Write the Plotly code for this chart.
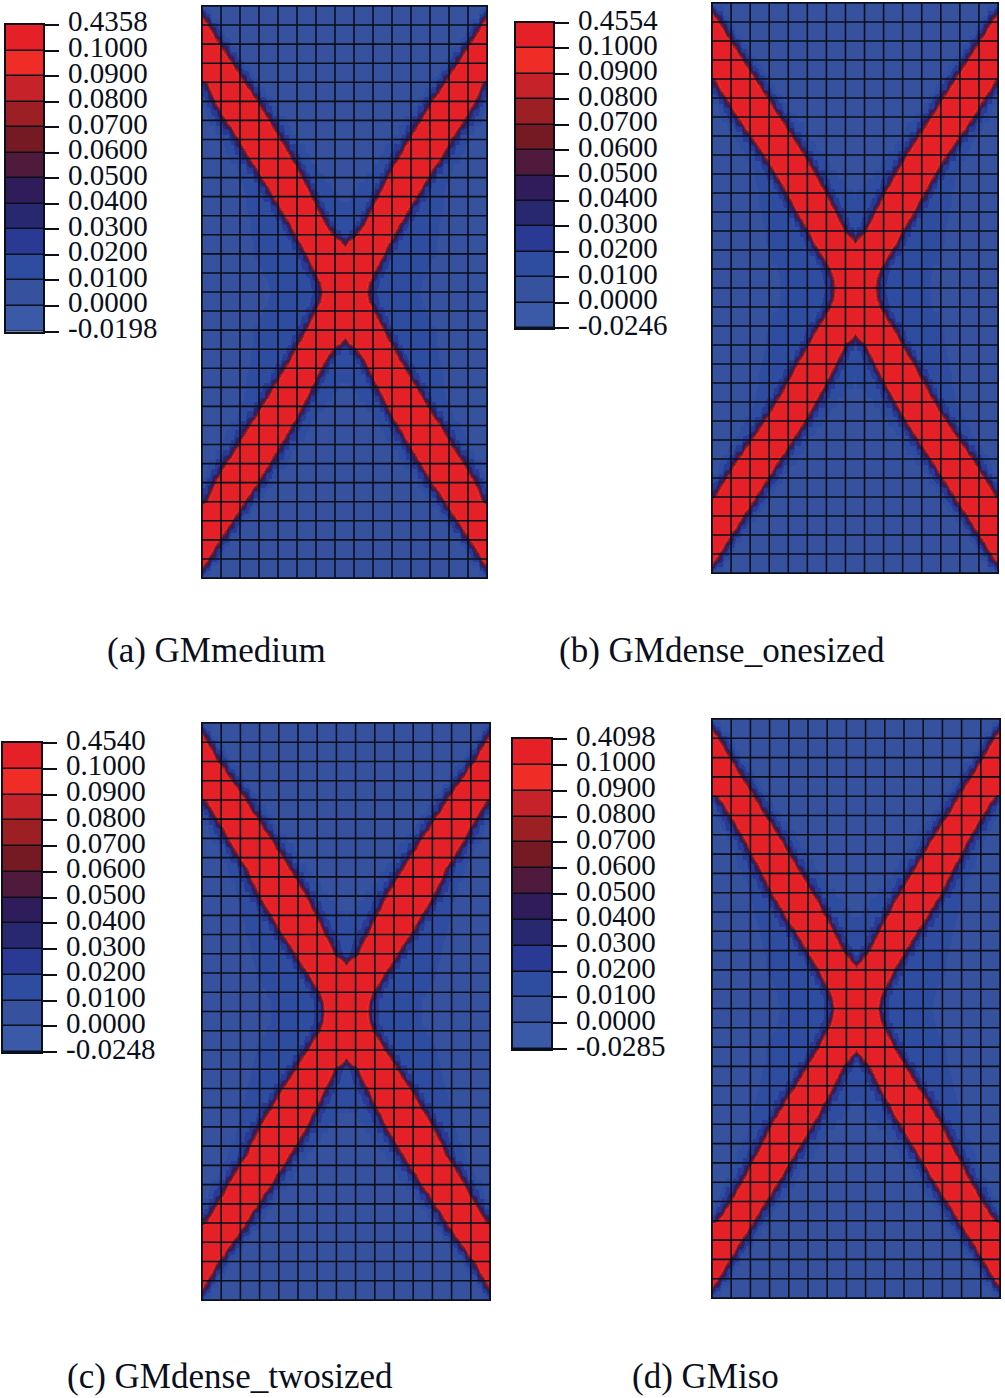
import numpy as np
import plotly.graph_objects as go

WIDTH, HEIGHT = 1005, 1398
N_COLS, N_ROWS = 15, 30

captions = ["(a) GMmedium", "(b) GMdense_onesized", "(c) GMdense_twosized", "(d) GMiso"]
strain_max = [0.4358, 0.4554, 0.4540, 0.4098]
strain_min = [-0.0198, -0.0246, -0.0248, -0.0285]
strain_levels = [0.0, 0.01, 0.02, 0.03, 0.04, 0.05, 0.06, 0.07, 0.08, 0.09, 0.10]
level_colors = ["#3a5aa8", "#36529f", "#2e4ca0", "#2a3a94", "#27286f", "#2f1c5b",
                "#4f1a3b", "#751a22", "#9c1f24", "#c62229", "#ef2c25", "#e52027"]

# band edges read per half cell row, top edge down to mid height, in mesh cells
# (-1 = band reaches the side / not started, 8 = band closed over the centre)
outer_a = [-1, -1, -1, -1, -1, -1, -1, -1, .15, .35, .55, .85, 1.15, 1.5, 1.8, 2.1, 2.4, 2.75, 3.05, 3.35, 3.65,
           3.95, 4.25, 4.55, 4.8, 5.1, 5.35, 5.6, 5.85, 6.1, 6.2]
inner_a = [-1, .1, .4, .7, 1.0, 1.35, 1.65, 2.0, 2.3, 2.65, 3.0, 3.3, 3.6, 3.9, 4.2, 4.5, 4.8, 5.1, 5.35, 5.6, 5.85,
           6.1, 6.35, 6.6, 6.95, 7.5, 8, 8, 8, 8, 8]
outer_b = [-1, -1, -1, -1, -1, -1, -1, -1, .05, .3, .65, .95, 1.25, 1.6, 1.95, 2.3, 2.65, 2.95, 3.25, 3.55, 3.8,
           4.1, 4.35, 4.65, 4.95, 5.2, 5.5, 5.8, 6.1, 6.25, 6.3]
inner_b = [-1, .12, .45, .75, 1.07, 1.4, 1.7, 2.03, 2.35, 2.67, 3.0, 3.3, 3.62, 3.95, 4.27, 4.6, 4.9, 5.2, 5.5, 5.75,
           6.05, 6.3, 6.55, 6.8, 7.05, 7.5, 8, 8, 8, 8, 8]
outer_c = [-1, -1, -1, -1, -1, -1, -1, -1, .1, .4, .7, 1.0, 1.25, 1.55, 1.85, 2.2, 2.4, 2.65, 2.9, 3.2, 3.5,
           3.8, 4.1, 4.45, 4.75, 5.05, 5.4, 5.7, 6.0, 6.2, 6.25]
inner_c = [-1, .1, .35, .65, .9, 1.3, 1.65, 2.0, 2.35, 2.65, 3.0, 3.3, 3.65, 3.95, 4.3, 4.6, 4.9, 5.2, 5.5, 5.75,
           6.0, 6.25, 6.5, 6.75, 6.95, 7.5, 8, 8, 8, 8, 8]
outer_d = [-1, -1, -1, -1, -1, -1, -1, -1, .2, .55, .85, 1.15, 1.45, 1.7, 1.95, 2.25, 2.5, 2.75, 3.0, 3.3, 3.6,
           3.9, 4.25, 4.55, 4.85, 5.15, 5.45, 5.7, 5.95, 6.15, 6.25]
inner_d = [-1, .08, .4, .7, 1.0, 1.3, 1.6, 1.95, 2.25, 2.55, 2.85, 3.2, 3.5, 3.8, 4.1, 4.4, 4.7, 5.0, 5.3, 5.6, 5.85,
           6.15, 6.4, 6.65, 6.9, 7.3, 7.7, 8, 8, 8, 8]
# how far the slightly raised strain reaches from the band in each row, in cells
halo_reach = [.4, .4, .5, .5, .5, .6, .6, .6, .7, .7, .7, .7, .8, .8, .8, .9, .9, 1.0, 1.1, 1.2, 1.4, 1.6, 1.8,
              2.0, 2.2, 2.4, 2.6, 2.7, 2.7, 2.7, 2.7]

outer_edges = [outer_a, outer_b, outer_c, outer_d]
inner_edges = [inner_a, inner_b, inner_c, inner_d]

# pixel boxes: left, right, top, bottom
mesh_boxes = [(202, 487, 6, 578), (712, 998, 3, 573), (202, 490, 723, 1300), (712, 1000, 719, 1298)]
bar_boxes = [(6, 43, 25, 331.5), (516, 553, 23, 328), (3, 41, 743, 1052), (513, 551, 739, 1049)]
caption_pos = [(105, 650), (557, 650), (65, 1376), (630, 1376)]

FONT = "Liberation Serif"
INK = "#0b0f1c"


def strain_field(outer, inner, vmax):
    xs = np.arange(0, N_COLS + 0.001, 0.125)
    half = np.minimum(xs, N_COLS - xs)
    rows = []
    for i in range(2 * N_ROWS + 1):
        r = i if i <= N_ROWS else 2 * N_ROWS - i
        d = np.minimum(half - outer[r], inner[r] - half)
        z = 0.05 + d * 0.25
        bg = np.where(-d < 0.4, 0.025, np.where(-d < halo_reach[r], 0.015, 0.005))
        rows.append(np.clip(np.maximum(z, bg), None, vmax))
    return xs, np.arange(2 * N_ROWS + 1) / 2, np.array(rows)


def discrete_scale(edges):
    lo, hi = edges[0], edges[-1]
    scale = []
    for k, col in enumerate(level_colors):
        scale.append([(edges[k] - lo) / (hi - lo), col])
        scale.append([(edges[k + 1] - lo) / (hi - lo), col])
    return scale


def x_dom(box):
    return [box[0] / WIDTH, box[1] / WIDTH]


def y_dom(box):
    return [1 - box[3] / HEIGHT, 1 - box[2] / HEIGHT]


fig = go.Figure()
layout_axes = {}
annotations = []
plain = dict(showgrid=False, zeroline=False, showline=True, mirror=True, linecolor=INK, automargin=False)

for p in range(4):
    edges = [strain_min[p]] + strain_levels + [strain_max[p]]
    scale = discrete_scale(edges)
    xs, ys, z = strain_field(outer_edges[p], inner_edges[p], strain_max[p])

    n_mesh = 2 * p + 1
    n_bar = 2 * p + 2
    fig.add_trace(go.Heatmap(x=xs, y=ys, z=z, colorscale=scale, zmin=edges[0], zmax=edges[-1], zsmooth="best",
                             showscale=False, hoverinfo="skip", xaxis=f"x{n_mesh}", yaxis=f"y{n_mesh}"))

    # element mesh on top of the field
    mesh_x, mesh_y = [], []
    for row in range(N_ROWS + 1):
        mesh_x += [0, N_COLS, None]
        mesh_y += [row, row, None]
    for col in range(N_COLS + 1):
        mesh_x += [col, col, None]
        mesh_y += [0, N_ROWS, None]
    fig.add_trace(go.Scatter(x=mesh_x, y=mesh_y, mode="lines", line=dict(color=INK, width=1.6), showlegend=False,
                             hoverinfo="skip", xaxis=f"x{n_mesh}", yaxis=f"y{n_mesh}"))

    mids = [(edges[k] + edges[k + 1]) / 2 for k in range(12)]
    fig.add_trace(go.Heatmap(x=[0], y=[k + 0.5 for k in range(12)], z=[[m] for m in mids], colorscale=scale,
                             zmin=edges[0], zmax=edges[-1], ygap=1.5, showscale=False, hoverinfo="skip",
                             xaxis=f"x{n_bar}", yaxis=f"y{n_bar}"))

    layout_axes[f"xaxis{n_mesh}"] = dict(domain=x_dom(mesh_boxes[p]), range=[0, N_COLS], anchor=f"y{n_mesh}",
                                         showticklabels=False, ticks="", linewidth=1, **plain)
    layout_axes[f"yaxis{n_mesh}"] = dict(domain=y_dom(mesh_boxes[p]), range=[N_ROWS, 0], anchor=f"x{n_mesh}",
                                         showticklabels=False, ticks="", linewidth=1, **plain)
    layout_axes[f"xaxis{n_bar}"] = dict(domain=x_dom(bar_boxes[p]), range=[-0.5, 0.5], anchor=f"y{n_bar}",
                                        showticklabels=False, ticks="", linewidth=1.5, **plain)
    layout_axes[f"yaxis{n_bar}"] = dict(domain=y_dom(bar_boxes[p]), range=[0, 12], anchor=f"x{n_bar}", side="right",
                                        tickmode="array", tickvals=list(range(13)), showticklabels=False,
                                        ticks="outside", ticklen=14, tickwidth=1.5, tickcolor=INK, linewidth=1.5,
                                        **plain)
    # labels sit a little above their ticks in the original
    tick_text = [f"{strain_min[p]:.4f}"] + [f"{v:.4f}" for v in strain_levels] + [f"{strain_max[p]:.4f}"]
    for k, label in enumerate(tick_text):
        annotations.append(dict(text=label, xref=f"x{n_bar} domain", yref=f"y{n_bar}", x=1, y=k, xanchor="left",
                                yanchor="middle", xshift=23, yshift=3.5, showarrow=False,
                                font=dict(family=FONT, size=29, color=INK)))
    annotations.append(dict(text=captions[p], xref="paper", yref="paper", x=caption_pos[p][0] / WIDTH,
                            y=1 - caption_pos[p][1] / HEIGHT, xanchor="left", yanchor="middle", showarrow=False,
                            font=dict(family=FONT, size=35, color=INK)))

fig.update_layout(width=WIDTH, height=HEIGHT, margin=dict(l=0, r=0, t=0, b=0), paper_bgcolor="white",
                  plot_bgcolor=INK, showlegend=False, annotations=annotations, hovermode=False, **layout_axes)

fig.write_html("out.html", post_script="document.body.style.margin='0';", config={"displayModeBar": False})
